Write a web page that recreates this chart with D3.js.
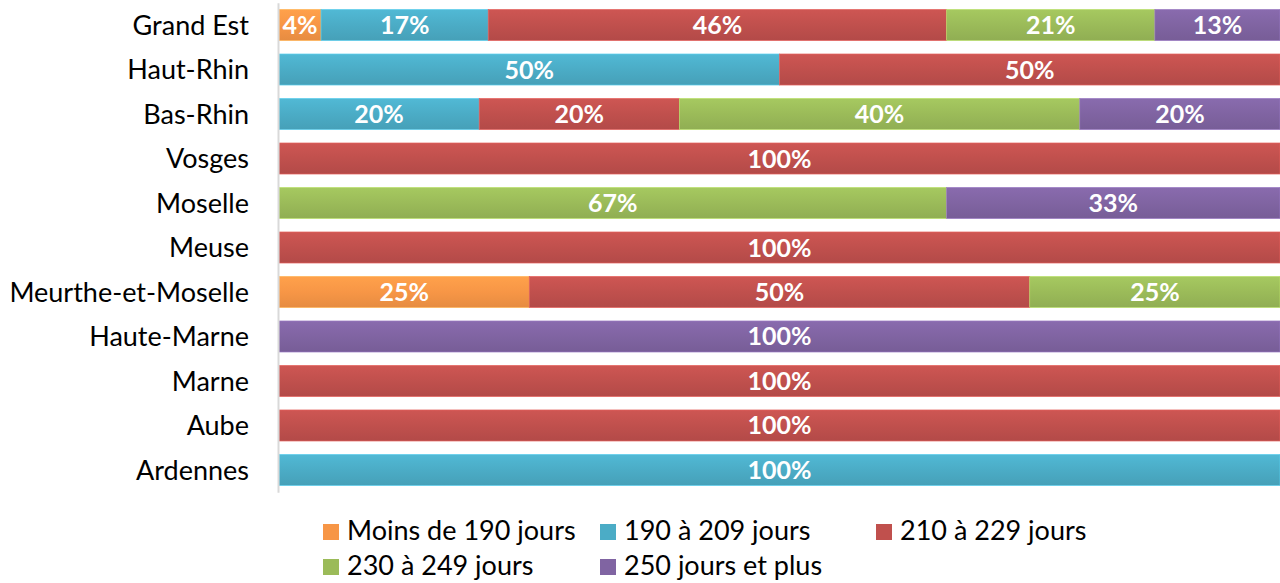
<!doctype html>
<head>
  <style>
    html, body {
      margin: 0;
      padding: 0;
      background: #fff;
    }
    svg text {
      font-family: Lato, "Open Sans", sans-serif;
    }
    .cat text {
      font-size: 27px;
      fill: #000;
    }
    .lbl {
      font-size: 25px;
      font-weight: bold;
      fill: #fff;
    }
    .legend text {
      font-size: 27px;
      fill: #000;
    }
  </style>
  <script src="https://cdn.jsdelivr.net/npm/d3@7"></script>
</head>

<body>
  <svg id="chart" width="1280" height="583"></svg>

  <script>
    // departements, top to bottom
    var categories = ['Grand Est', 'Haut-Rhin', 'Bas-Rhin', 'Vosges', 'Moselle', 'Meuse',
                      'Meurthe-et-Moselle', 'Haute-Marne', 'Marne', 'Aube', 'Ardennes'];
    var series = ['Moins de 190 jours', '190 à 209 jours', '210 à 229 jours',
                  '230 à 249 jours', '250 jours et plus'];

    // shares in % per category
    var moins190  = [4.2, 0, 0, 0, 0, 0, 25, 0, 0, 0, 0];
    var de190a209 = [16.7, 50, 20, 0, 0, 0, 0, 0, 0, 0, 100];
    var de210a229 = [45.8, 50, 20, 100, 0, 100, 50, 0, 100, 100, 0];
    var de230a249 = [20.8, 0, 40, 0, 66.7, 0, 25, 0, 0, 0, 0];
    var plus250   = [12.5, 0, 20, 0, 33.3, 0, 0, 100, 0, 0, 0];

    var colors = ['#f79646', '#4bacc6', '#c0504d', '#9bbb59', '#8064a2'];

    var rows = categories.map(function(c, i) {
      var r = {cat: c};
      [moins190, de190a209, de210a229, de230a249, plus250].forEach(function(s, j) {
        r[series[j]] = s[i];
      });
      return r;
    });

    var svg = d3.select('#chart');

    var x = d3.scaleLinear().domain([0, 100]).range([279, 1280]);
    var y = d3.scaleBand()
        .domain(categories)
        .range([2.75, 492.25])
        .paddingInner(0.303)
        .paddingOuter(0.152);

    // vertical gradients, lighter on top
    var defs = svg.append('defs');
    colors.forEach(function(c, i) {
      var g = defs.append('linearGradient')
          .attr('id', 'grad' + i)
          .attr('x1', 0).attr('y1', 0).attr('x2', 0).attr('y2', 1);
      g.append('stop').attr('offset', '0%').attr('stop-color', d3.color(c).brighter(0.2));
      g.append('stop').attr('offset', '50%').attr('stop-color', c);
      g.append('stop').attr('offset', '100%').attr('stop-color', d3.color(c).darker(0.2));
    });

    var stacked = d3.stack().keys(series)(rows);

    var layer = svg.selectAll('g.layer')
        .data(stacked)
        .enter().append('g')
        .attr('class', 'layer');

    layer.selectAll('rect')
        .data(function(d, i) {
          return d.map(function(p) { return {p: p, i: i}; });
        })
        .enter().append('rect')
        .filter(function(d) { return d.p[1] - d.p[0] > 0; })
        .attr('x', function(d) { return x(d.p[0]); })
        .attr('y', function(d) { return y(d.p.data.cat); })
        .attr('width', function(d) { return x(d.p[1]) - x(d.p[0]); })
        .attr('height', y.bandwidth())
        .attr('fill', function(d) { return 'url(#grad' + d.i + ')'; })
        .attr('stroke', function(d) { return d3.color(colors[d.i]).brighter(0.5); })
        .attr('stroke-width', 0.7);

    layer.selectAll('text')
        .data(function(d) { return d.filter(function(p) { return p[1] - p[0] > 0; }); })
        .enter().append('text')
        .attr('class', 'lbl')
        .attr('x', function(p) { return (x(p[0]) + x(p[1])) / 2; })
        .attr('y', function(p) { return y(p.data.cat) + y.bandwidth() / 2; })
        .attr('dy', '0.36em')
        .attr('text-anchor', 'middle')
        .text(function(p) { return Math.round(p[1] - p[0]) + '%'; });

    // category axis
    var axis = svg.append('g')
        .attr('class', 'cat')
        .attr('transform', 'translate(278,0)')
        .call(d3.axisLeft(y).tickSize(0).tickPadding(29));
    axis.select('.domain').attr('stroke', '#d9d9d9').attr('stroke-width', 2);
    axis.selectAll('text').attr('dy', '0.36em').attr('font-family', null).attr('font-size', null);

    // legend
    var legPos = [[323, 540], [600, 540], [876, 540], [323, 575], [600, 575]];
    var leg = svg.append('g').attr('class', 'legend')
        .selectAll('g')
        .data(series)
        .enter().append('g')
        .attr('transform', function(d, i) {
          return 'translate(' + legPos[i][0] + ',' + legPos[i][1] + ')';
        });
    leg.append('rect')
        .attr('x', 0).attr('y', -16)
        .attr('width', 16).attr('height', 16)
        .attr('fill', function(d, i) { return colors[i]; });
    leg.append('text')
        .attr('x', 24)
        .attr('y', 0)
        .text(function(d) { return d; });
  </script>
</body>
